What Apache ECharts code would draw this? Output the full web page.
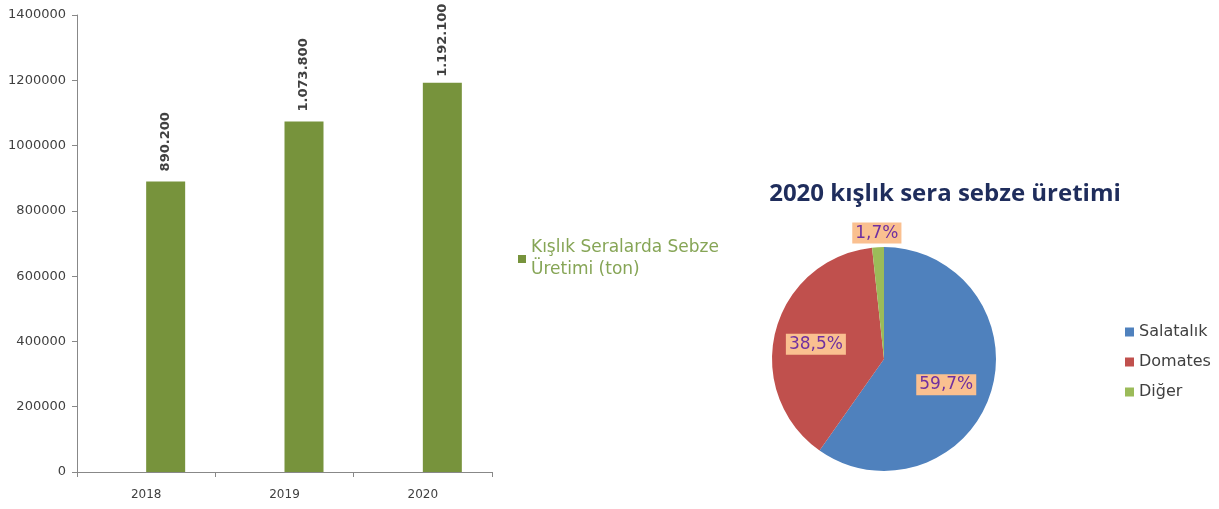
<!DOCTYPE html>
<html>
<head>
<meta charset="utf-8">
<script src="https://cdn.jsdelivr.net/npm/echarts@6/dist/echarts.min.js"></script>
<style>
html,body{margin:0;padding:0;background:#fff;}
#chart{width:1219px;height:509px;}
</style>
</head>
<body>
<div id="chart"></div>
<script>
var years = ['2018','2019','2020'];
var uretim = [890200, 1073800, 1192100];
var yTicks = [0, 200000, 400000, 600000, 800000, 1000000, 1200000, 1400000];
var pieNames = ['Salatalık','Domates','Diğer'];
var piePercents = [59.7, 38.5, 1.7];

function binlik(v){
	return String(v).replace(/\B(?=(\d{3})+(?!\d))/g, '.');
}

var chart = echarts.init(document.getElementById('chart'));
var pieColors = ['#4f81bd','#c0504d','#9bbb59'];
var pieData = pieNames.map(function(n, i){
	var d = {name:n, value:piePercents[i], itemStyle:{color:pieColors[i]}};
	if(i === 0){
		d.label = {offset:[6, 8]};
	}
	if(i === 1){
		d.label = {offset:[-11, 0]};
	}
	if(i === 2){
		d.label = {offset:[-4, -67]};
	}
	return d;
});
// son çubuğun etiketi üstten taşmasın
var barData = uretim.map(function(v, i){
	return i === uretim.length - 1 ? {value:v, label:{distance:6}} : v;
});

var option = {
	backgroundColor:'#fff',
	textStyle:{fontFamily:'DejaVu Sans'},
	title:{
		text:'2020 kışlık sera sebze üretimi',
		left:940, top:177, textAlign:'center',
		textStyle:{fontFamily:'Open Sans', fontWeight:'bold', fontSize:24, color:'#1f2d5c'}
	},
	legend:[{
		data:['Kışlık Seralarda Sebze Üretimi (ton)'],
		left:513, top:232,
		icon:'rect', itemWidth:8, itemHeight:8, itemGap:5,
		formatter:function(){ return 'Kışlık Seralarda Sebze\nÜretimi (ton)'; },
		textStyle:{color:'#86a556', fontSize:17, lineHeight:22, fontFamily:'DejaVu Sans'}
	},{
		data:pieNames,
		orient:'vertical',
		left:1120, top:319,
		icon:'rect', itemWidth:9, itemHeight:9, itemGap:14,
		textStyle:{color:'#404040', fontSize:16, fontFamily:'DejaVu Sans'}
	}],
	grid:{left:77, top:15, width:415, bottom:37, containLabel:false},
	xAxis:{
		type:'category',
		data:years,
		axisLine:{lineStyle:{color:'#888'}},
		axisTick:{show:true, alignWithLabel:false, length:5, lineStyle:{color:'#888'}},
		axisLabel:{color:'#404040', fontSize:12, margin:17}
	},
	yAxis:{
		type:'value',
		min:yTicks[0], max:yTicks[yTicks.length-1], interval:yTicks[1]-yTicks[0],
		axisLine:{show:true, lineStyle:{color:'#888'}},
		axisTick:{show:true, length:5, lineStyle:{color:'#888'}},
		splitLine:{show:false},
		axisLabel:{color:'#404040', fontSize:13, margin:11, formatter:function(v){ return String(v); }}
	},
	series:[{
		// boş seri: Excel'deki gibi çubuklar kategori ortasının sağında dursun
		type:'bar',
		data:[null, null, null],
		barWidth:39,
		barGap:0,
		silent:true
	},{
		name:'Kışlık Seralarda Sebze Üretimi (ton)',
		type:'bar',
		data:barData,
		barWidth:39,
		barGap:0,
		itemStyle:{color:'#77933c'},
		label:{
			show:true, position:'top', rotate:90, align:'left', verticalAlign:'middle',
			distance:10, fontWeight:'bold', fontSize:13, color:'#404040',
			formatter:function(p){ return binlik(p.value); }
		}
	},{
		type:'pie',
		center:[884,359], radius:112,
		startAngle:90, clockwise:true,
		data:pieData,
		label:{
			show:true, position:'inside',
			backgroundColor:'#fac090', padding:[2,3],
			color:'#7030a0', fontSize:17, fontFamily:'DejaVu Sans',
			formatter:function(p){ return String(p.value).replace('.', ',') + '%'; }
		},
		labelLine:{show:false},
		emphasis:{disabled:true}
	}]
};
chart.setOption(option);
</script>
</body>
</html>
